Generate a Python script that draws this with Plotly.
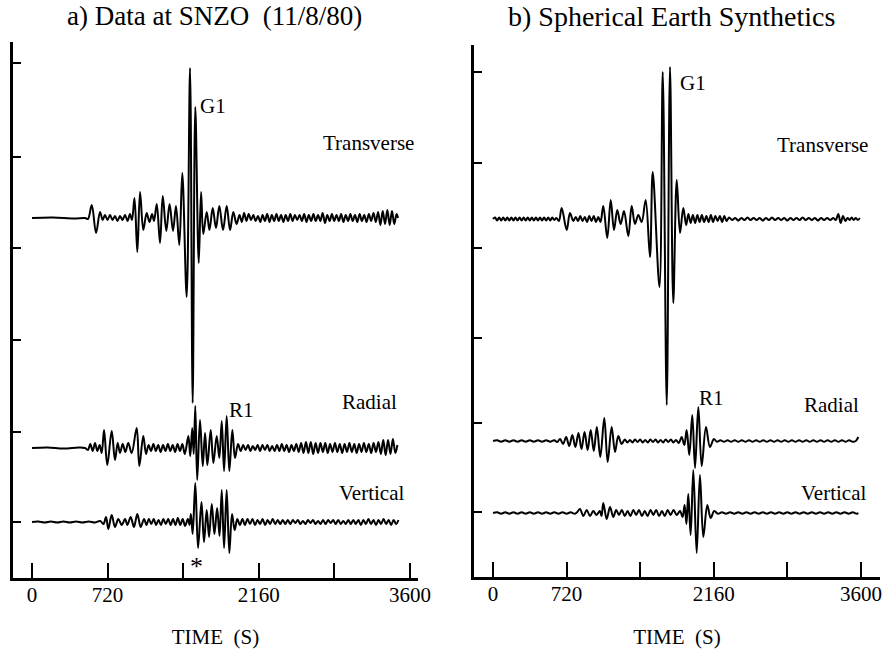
import plotly.graph_objects as go

FONT = "Liberation Serif"
W, H = 887, 649

# ---------------- axes values ----------------
X_TICKS = [0, 720, 1440, 2160, 2880, 3600]
X_TICKTEXT = ["0", "720", "", "2160", "", "3600"]
Y_TICKS_LEFT = [515, 421, 330, 238, 146, 56]
Y_TICKS_RIGHT = [505, 414, 329, 239, 154, 65]

# trace baselines (amplitude offsets)
BASE_LEFT = {"Transverse": 360, "Radial": 130, "Vertical": 56}
BASE_RIGHT = {"Transverse": 358, "Radial": 136, "Vertical": 64}

# ---------------- a) Data at SNZO : (time s, amplitude) ----------------
LEFT_TRANSVERSE = [
    (0, 0), (200, 0.5), (400, -0.5), (505, 0), (533, -1), (569, 13), (610, -15), (648, 6), (673, -2),
    (695, 3), (719, -2), (743, 3), (767, -2), (790, 2), (814, -3), (838, 2), (862, -2), (886, 3), (910, -3), (933, 4), (952, -2),
    (976, 20), (1003, -34), (1029, 26), (1060, -12), (1092, 5), (1119, -4), (1143, 4), (1162, -3), (1188, 14), (1219, -25),
    (1245, 22), (1279, -13), (1310, 14), (1343, -13), (1371, 12), (1403, -27),
    (1431, 45), (1473, -79), (1505, 150), (1530, -185), (1555, 111), (1588, -45), (1610, 26), (1631, -16),
    (1664, 6), (1690, -12), (1721, 10), (1752, -10), (1784, 12), (1819, -12), (1854, 12), (1886, -12), (1917, 6), (1948, -6), (1976, 3),
    (1998, -4), (2020, 5), (2042, -3), (2064, 4), (2086, -2), (2108, 3), (2130, -3), (2152, 2), (2174, -4), (2196, 3),
    (2218, -3), (2240, 4), (2262, -4), (2284, 3), (2306, -3), (2328, 4), (2350, -3), (2372, 3), (2394, -4), (2416, 3),
    (2438, -3), (2460, 4), (2482, -3), (2504, 3), (2526, -2), (2548, 3), (2570, -3), (2592, 4), (2614, -4), (2636, 3),
    (2658, -3), (2680, 4), (2702, -3), (2724, 3), (2746, -3), (2768, 5), (2790, -5), (2812, 3), (2834, -3), (2856, 4),
    (2878, -3), (2900, 3), (2922, -3), (2944, 4), (2966, -4), (2988, 3), (3010, -3), (3032, 4), (3054, -3), (3076, 3),
    (3098, -4), (3120, 4), (3142, -3), (3164, 3), (3186, -4), (3208, 4), (3230, -3), (3252, 5), (3274, -4), (3296, 6),
    (3318, -7), (3340, 7), (3362, -6), (3384, 8), (3406, -7), (3428, 7), (3450, -6), (3472, 4), (3486, 0),
]

LEFT_RADIAL = [
    (0, 0), (150, 0.5), (300, -0.5), (450, 0.5), (505, 0), (533, -2), (555, 4), (578, -3), (600, 5), (622, -3), (644, 3), (664, -5),
    (686, 18), (717, -17), (759, 17), (790, -12), (816, 5), (838, -5), (864, 4), (889, -4), (917, 5), (949, -5),
    (997, 20), (1022, -18), (1060, 12), (1086, -6),
    (1110, 3), (1133, -3), (1156, 4), (1179, -3), (1202, 3), (1225, -4), (1248, 3), (1271, -3), (1294, 4), (1317, -3),
    (1340, 3), (1363, -4), (1386, 4), (1409, -3), (1432, 4), (1455, -6),
    (1489, 12), (1507, -8), (1526, 20), (1540, -6), (1555, 42), (1573, -32), (1600, 28), (1626, -18), (1648, 15), (1670, -17),
    (1702, 18), (1727, -15), (1759, 12), (1784, -10), (1807, 27), (1829, -23), (1854, 32), (1879, -23), (1908, 18), (1933, -10), (1962, 4),
    (1988, -3), (2011, 3), (2034, -2), (2057, 3), (2080, -3), (2103, 2), (2126, -2), (2149, 3), (2172, -3), (2195, 3),
    (2218, -2), (2241, 3), (2264, -3), (2287, 2), (2310, -3), (2333, 3), (2356, -3), (2379, 4), (2402, -3), (2425, 3),
    (2448, -4), (2471, 3), (2494, -3), (2517, 4), (2540, -4), (2563, 5), (2586, -5), (2609, 6), (2632, -5), (2655, 6),
    (2678, -6), (2701, 5), (2724, -5), (2747, 5), (2770, -4), (2793, 5), (2816, -5), (2839, 4), (2862, -4), (2885, 5),
    (2908, -4), (2931, 4), (2954, -5), (2977, 4), (3000, -4), (3023, 5), (3046, -4), (3069, 4), (3092, -5), (3115, 4),
    (3138, -4), (3161, 5), (3184, -4), (3207, 4), (3230, -5), (3253, 5), (3276, -4), (3299, 6), (3322, -6), (3345, 8),
    (3368, -7), (3391, 8), (3414, -6), (3437, 9), (3460, -5), (3480, 3),
]

LEFT_VERTICAL = [
    (0, 0), (60, 0.5), (120, -0.5), (180, 0.5), (240, -0.5), (300, 0.5), (360, -0.5), (420, 0.5), (480, -0.5), (540, 0.5), (600, -0.5), (650, 1), (680, -2),
    (705, 5), (727, -7), (759, 7), (790, -5), (822, 3), (854, -3), (886, 3), (908, -3), (940, 5), (971, -5), (1003, 8), (1035, -5), (1067, 3),
    (1090, -3), (1113, 3), (1136, -2), (1159, 3), (1182, -3), (1205, 2), (1228, -3), (1251, 3), (1274, -2), (1297, 3),
    (1320, -3), (1343, 3), (1366, -3), (1389, 4), (1412, -3), (1435, 3), (1458, -4), (1484, 3), (1500, -3),
    (1513, 8), (1530, -12), (1555, 39), (1581, -26), (1614, 20), (1638, -20), (1664, 12), (1686, -15), (1712, 18), (1737, -12),
    (1763, 14), (1786, -14), (1807, 32), (1829, -26), (1854, 32), (1879, -31), (1905, 8), (1930, -8), (1955, 3),
    (1980, -3), (2004, 3), (2028, -3), (2052, 3), (2076, -2), (2100, 3), (2124, -3), (2148, 2), (2172, -2), (2196, 3),
    (2220, -3), (2244, 2), (2268, -2), (2292, 3), (2316, -2), (2340, 2), (2364, -2), (2388, 2), (2412, -2), (2436, 2),
    (2460, -2), (2484, 2), (2508, -1), (2532, 2), (2556, -2), (2580, 1), (2604, -2), (2628, 2), (2652, -1), (2676, 2),
    (2700, -2), (2724, 1), (2748, -2), (2772, 2), (2796, -2), (2820, 2), (2844, -1), (2868, 2), (2892, -2), (2916, 2),
    (2940, -2), (2964, 1), (2988, -2), (3012, 2), (3036, -2), (3060, 2), (3084, -2), (3108, 2), (3132, -3), (3156, 2),
    (3180, -2), (3204, 3), (3228, -2), (3252, 2), (3276, -3), (3300, 2), (3324, -2), (3348, 3), (3372, -2), (3396, 2),
    (3420, -3), (3444, 2), (3468, -2), (3490, 2),
]

# ---------------- b) Spherical Earth Synthetics ----------------
RIGHT_TRANSVERSE = [
    (0, 0), (20, 1.5), (40, -1.5), (60, 1.5), (80, -1.5), (100, 1.5), (120, -1.5), (140, 1.5), (160, -1.5), (180, 1.5), (200, -1.5),
    (220, 1.5), (240, -1.5), (260, 1.5), (280, -1.5), (300, 1.5), (320, -1.5), (340, 1.5), (360, -1.5), (380, 1.5), (400, -1.5),
    (420, 1.5), (440, -1.5), (460, 1.5), (480, -1.5), (500, 1.5), (520, -1.5), (540, 1.5), (560, -1.5), (580, 1.5), (600, -1), (620, 1), (645, -2),
    (672, 11), (721, -11), (753, 6), (786, -2),
    (810, 2), (832, -2), (854, 3), (876, -2), (898, 2), (920, -3), (942, 3), (964, -2), (986, 3), (1008, -3), (1030, 2), (1052, -3),
    (1079, 13), (1118, -19), (1152, 19), (1184, -11), (1216, 9), (1249, -5), (1282, 8), (1324, -17), (1357, 13), (1389, -5),
    (1422, 4), (1455, -3),
    (1494, 19), (1536, -38), (1563, 47), (1629, -68), (1661, 147), (1700, -186), (1732, 152), (1764, -84), (1798, 39), (1830, -14),
    (1862, 11), (1890, -6), (1912, 5), (1934, -4), (1956, 4), (1978, -4), (2000, 4), (2022, -3), (2044, 4), (2066, -3),
    (2088, 3), (2110, -3), (2132, 4), (2154, -3), (2176, 3), (2198, -2), (2220, 3), (2242, -3), (2264, 3), (2286, -2),
    (2310, 1.5), (2340, -1), (2370, 1), (2400, -1.5), (2430, 1), (2460, -1), (2490, 1.5), (2520, -1), (2550, 1), (2580, -1),
    (2610, 1), (2640, -1.5), (2670, 1), (2700, -1), (2730, 1.5), (2760, -1), (2790, 1), (2820, -1), (2850, 1), (2880, -1.5),
    (2910, 1), (2940, -1), (2970, 1), (3000, -1), (3030, 1.5), (3060, -1), (3090, 1), (3120, -1), (3150, 1), (3180, -1.5),
    (3210, 1), (3240, -1), (3270, 1), (3300, -1), (3330, 1), (3355, -1), (3379, 5), (3402, -4), (3425, 3), (3448, -2),
    (3470, 1), (3490, -1), (3510, 1.5), (3530, -1), (3550, 1), (3570, -1), (3590, 1),
]

RIGHT_RADIAL = [
    (0, 0), (40, 0.7), (80, -0.7), (120, 0.7), (160, -0.7), (200, 0.7), (240, -0.7), (280, 0.7), (320, -0.7), (360, 0.7), (400, -0.7),
    (440, 0.7), (480, -0.7), (520, 0.7), (560, -0.7), (600, 0.7), (628, -1),
    (656, 2), (686, -3), (716, 4), (746, -5), (776, 6), (806, -6), (836, 8), (866, -8), (896, 9), (926, -9), (956, 11), (986, -10),
    (1016, 14), (1050, -16), (1089, 23), (1122, -21), (1161, 14), (1194, -11), (1226, 5), (1259, -3),
    (1290, 1.5), (1315, -1.5), (1340, 1), (1365, -1.5), (1390, 1.5), (1415, -1), (1440, 1.5), (1465, -1.5), (1490, 1), (1515, -1.5),
    (1540, 1.5), (1565, -1), (1590, 1.5), (1615, -1.5), (1640, 1), (1665, -1.5), (1690, 1.5), (1715, -1), (1740, 1.5), (1765, -1.5),
    (1790, 1), (1818, -2),
    (1846, 4), (1872, -4), (1895, 11), (1921, -14), (1950, 26), (1977, -27), (2009, 34), (2042, -25), (2084, 14), (2123, -6), (2162, 2),
    (2190, -0.7), (2225, 0.7), (2260, -0.7), (2295, 0.7), (2330, -0.7), (2365, 0.7), (2400, -0.7), (2435, 0.7), (2470, -0.7), (2505, 0.7),
    (2540, -0.7), (2575, 0.7), (2610, -0.7), (2645, 0.7), (2680, -0.7), (2715, 0.7), (2750, -0.7), (2785, 0.7), (2820, -0.7), (2855, 0.7),
    (2890, -0.7), (2925, 0.7), (2960, -0.7), (2995, 0.7), (3030, -0.7), (3065, 0.7), (3100, -0.7), (3135, 0.7), (3170, -0.7), (3205, 0.7),
    (3240, -0.7), (3275, 0.7), (3310, -0.7), (3345, 0.7), (3380, -0.7), (3415, 0.7), (3450, -0.7), (3485, 0.7), (3520, -0.7), (3550, 0), (3575, 4),
]

RIGHT_VERTICAL = [
    (0, 0), (40, 0.7), (80, -0.7), (120, 0.7), (160, -0.7), (200, 0.7), (240, -0.7), (280, 0.7), (320, -0.7), (360, 0.7), (400, -0.7),
    (440, 0.7), (480, -0.7), (520, 0.7), (560, -0.7), (600, 0.7), (640, -0.7), (680, 0.7), (720, -0.7), (760, 0.7), (800, -0.7), (825, 1),
    (851, 4), (884, -3), (917, 3), (949, -3), (981, 2), (1013, -2), (1045, 2), (1062, -3), (1079, 10), (1113, -6), (1145, 6), (1177, -4),
    (1205, 3), (1233, -2), (1261, 3), (1289, -3), (1317, 2), (1345, -3), (1373, 3), (1401, -2), (1429, 3), (1457, -3),
    (1485, 2), (1513, -3), (1541, 3), (1569, -2), (1597, 3), (1625, -3), (1653, 2), (1681, -3), (1709, 3), (1737, -2),
    (1767, 3), (1797, -2), (1830, 2), (1855, -4), (1875, 8), (1893, -11), (1911, 19), (1934, -22), (1960, 43), (1993, -40),
    (2025, 38), (2058, -24), (2097, 8), (2130, -5), (2165, 2),
    (2200, -0.7), (2240, 0.7), (2280, -0.7), (2320, 0.7), (2360, -0.7), (2400, 0.7), (2440, -0.7), (2480, 0.7), (2520, -0.7), (2560, 0.7),
    (2600, -0.7), (2640, 0.7), (2680, -0.7), (2720, 0.7), (2760, -0.7), (2800, 0.7), (2840, -0.7), (2880, 0.7), (2920, -0.7), (2960, 0.7),
    (3000, -0.7), (3040, 0.7), (3080, -0.7), (3120, 0.7), (3160, -0.7), (3200, 0.7), (3240, -0.7), (3280, 0.7), (3320, -0.7), (3360, 0.7),
    (3400, -0.7), (3440, 0.7), (3480, -0.7), (3520, 0.7), (3560, -0.7), (3575, 0),
]

LEFT = {"Transverse": LEFT_TRANSVERSE, "Radial": LEFT_RADIAL, "Vertical": LEFT_VERTICAL}
RIGHT = {"Transverse": RIGHT_TRANSVERSE, "Radial": RIGHT_RADIAL, "Vertical": RIGHT_VERTICAL}

fig = go.Figure()


def add_panel(traces, base, xa, ya):
    for name, pts in traces.items():
        t = [p[0] for p in pts]
        y = [base[name] + p[1] for p in pts]
        fig.add_trace(go.Scatter(
            x=t, y=y, mode="lines", xaxis=xa, yaxis=ya, showlegend=False, hoverinfo="skip",
            line=dict(color="black", width=2, shape="spline", smoothing=1.0),
        ))


add_panel(LEFT, BASE_LEFT, "x", "y")
add_panel(RIGHT, BASE_RIGHT, "x2", "y2")


def xax(domain, rng, anchor):
    return dict(
        domain=domain, range=rng, anchor=anchor, showgrid=False, zeroline=False,
        showline=True, linecolor="black", linewidth=2.5,
        tickmode="array", tickvals=X_TICKS, ticktext=X_TICKTEXT,
        ticks="inside", ticklen=15, tickwidth=2, tickcolor="black",
        tickfont=dict(family=FONT, size=21, color="black"), ticklabelstandoff=-4,
        title=dict(text="TIME\u00a0\u00a0(S)", font=dict(family=FONT, size=21, color="black"), standoff=25),
        automargin=False, fixedrange=True,
    )


def yax(domain, rng, ticks, anchor):
    return dict(
        domain=domain, range=rng, anchor=anchor, showgrid=False, zeroline=False,
        showline=True, linecolor="black", linewidth=2.5,
        tickmode="array", tickvals=ticks, showticklabels=False,
        ticks="inside", ticklen=8, tickwidth=2, tickcolor="black",
        automargin=False, fixedrange=True,
    )


def P(xpx, ypx):
    return xpx / W, 1 - ypx / H


ANNOT = [
    ("a) Data at SNZO\u00a0\u00a0(11/8/80)", 214, 16, 27),
    ("b) Spherical Earth Synthetics", 671, 16, 28),
    ("Transverse", 368, 143, 21),
    ("Radial", 369, 402, 21),
    ("Vertical", 371, 493, 21),
    ("G1", 213, 106, 21),
    ("R1", 241, 410, 21),
    ("*", 196, 566, 26),
    ("Transverse", 822, 145, 21),
    ("Radial", 831, 405, 21),
    ("Vertical", 833, 493, 21),
    ("G1", 693, 83, 21),
    ("R1", 711, 398, 21),
]

annotations = []
for text, xp, yp, size in ANNOT:
    ax_, ay_ = P(xp, yp)
    annotations.append(dict(
        text=text, x=ax_, y=ay_, xref="paper", yref="paper", xanchor="center", yanchor="middle",
        showarrow=False, font=dict(family=FONT, size=size, color="black"),
    ))

fig.update_layout(
    width=W, height=H, margin=dict(l=0, r=0, t=0, b=0),
    paper_bgcolor="white", plot_bgcolor="white",
    xaxis=xax([13 / W, 418 / W], [-181, 3676], "y"),
    yaxis=yax([(H - 578) / H, (H - 42) / H], [0, 536], Y_TICKS_LEFT, "x"),
    xaxis2=xax([474 / W, 880 / W], [-186, 3787], "y2"),
    yaxis2=yax([(H - 577) / H, (H - 45) / H], [0, 532], Y_TICKS_RIGHT, "x2"),
    annotations=annotations,
    font=dict(family=FONT, color="black"),
)

fig.write_html("out.html")
